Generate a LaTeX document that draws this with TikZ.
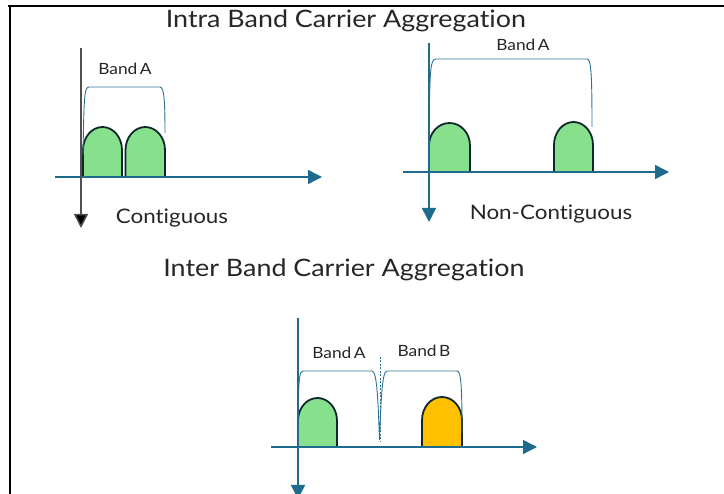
\documentclass[tikz,border=0pt]{standalone}
\usepackage{fontspec}
\setmainfont{Lato}[FakeStretch=1.12, Ligatures=NoCommon]
\usetikzlibrary{arrows.meta}
\definecolor{axisblue}{RGB}{31,107,140}
\definecolor{bandline}{RGB}{45,115,145}
\definecolor{cagreen}{RGB}{134,224,140}
\definecolor{cayellow}{RGB}{255,192,0}
\definecolor{caedge}{RGB}{16,40,45}
\definecolor{framegray}{RGB}{80,80,80}

% one carrier: flat base, straight sides and a rounded top
% #1 style, #2 left x, #3 right x, #4 top y, #5 base y
\newcommand{\carrier}[5]{%
  \pgfmathsetmacro{\cmidx}{(#2+#3)/2}%
  \pgfmathsetmacro{\crx}{(#3-#2)/2}%
  \pgfmathsetmacro{\cry}{0.46*(#5-#4)}%
  \pgfmathsetmacro{\cyo}{#4+\cry}%
  \draw[#1] (#2,#5) -- (#2,\cyo)
    .. controls (#2,\cyo-0.5523*\cry) and (\cmidx-0.5523*\crx,#4) .. (\cmidx,#4)
    .. controls (\cmidx+0.5523*\crx,#4) and (#3,\cyo-0.5523*\cry) .. (#3,\cyo)
    -- (#3,#5) -- cycle;}

\tikzset{
  x=1pt, y=-1pt,
  heading/.style={font=\fontsize{24}{28}\selectfont, text=black!85, inner sep=0pt},
  caption/.style={font=\fontsize{20}{24}\selectfont, text=black!85, inner sep=0pt},
  bandlabel/.style={font=\fontsize{15.5}{18}\selectfont, text=black!85, inner sep=0pt},
  freqaxis/.style={draw=axisblue, line width=1.4pt,
    -{Triangle[length=14pt,width=14pt,fill=axisblue]}},
  bandedge/.style={draw=bandline, line width=0.9pt},
  greencarrier/.style={fill=cagreen, draw=caedge, line width=1.8pt, line join=round},
  yellowcarrier/.style={fill=cayellow, draw=caedge, line width=1.8pt, line join=round},
}

\begin{document}
\begin{tikzpicture}
\useasboundingbox (0,0) rectangle (724,494);

% frame
\draw[line width=2pt] (8,6.3) -- (724,6.3);
\draw[line width=2pt] (10,5.3) -- (10,494);

% ---------- Intra band, contiguous ----------
\node[heading] (intra) at (346,21) {Intra Band Carrier Aggregation};

\carrier{greencarrier}{83}{122}{127}{177}
\carrier{greencarrier}{125.5}{165}{127}{177}
\draw[bandedge] (83,155) .. controls (84,100) and (84,87) .. (89,87)
  -- (160,87) .. controls (164,87) and (165,100) .. (165,133);
\node[bandlabel] (bandA1) at (125,69) {Band\,A};

\coordinate (h1s) at (55,177);   \coordinate (h1e) at (322,177);
\coordinate (v1s) at (81,48);    \coordinate (v1e) at (81,228);
\draw[freqaxis] (h1s) -- (h1e);
\draw[draw=framegray, line width=1.4pt, -{Triangle[length=14pt,width=14pt,fill=black]}] (v1s) -- (v1e);
\node[caption] (contig) at (172,218) {Contiguous};

% ---------- Intra band, non-contiguous ----------
\carrier{greencarrier}{429}{470}{123}{172}
\carrier{greencarrier}{554}{593}{122}{172}
\draw[bandedge] (429,127) .. controls (430,72) and (430,59) .. (436,59)
  -- (587,59) .. controls (591,59) and (592,72) .. (592,127);
\node[bandlabel] (bandA2) at (523,45) {Band\,A};

\coordinate (h2s) at (403,172);  \coordinate (h2e) at (669,172);
\coordinate (v2s) at (429,43);   \coordinate (v2e) at (429,222);
\draw[freqaxis] (h2s) -- (h2e);
\draw[freqaxis] (v2s) -- (v2e);
\node[caption] (noncontig) at (551,214) {Non-Contiguous};

% ---------- Inter band ----------
\node[heading] (inter) at (344,270) {Inter Band Carrier Aggregation};

\carrier{greencarrier}{298}{337}{398}{447}
\carrier{yellowcarrier}{422}{462}{397}{447}
\draw[bandedge] (298,410) .. controls (299,380) and (299,371) .. (303,371)
  -- (372,371) .. controls (377,371) and (378,400) .. (379.5,440)
  .. controls (381,400) and (382,371) .. (387,371)
  -- (457,371) .. controls (461,371) and (462,385) .. (462,433);
\draw[draw=bandline, line width=0.8pt, dash pattern=on 2pt off 1.5pt] (380,357) -- (380,442);
\node[bandlabel] (bandA3) at (339,353) {Band\,A};
\node[bandlabel] (bandB3) at (424,351) {Band\,B};

\coordinate (h3s) at (271,447);  \coordinate (h3e) at (537,447);
\coordinate (v3s) at (298,318);  \coordinate (v3e) at (298,499);
\draw[freqaxis] (h3s) -- (h3e);
\draw[freqaxis] (v3s) -- (v3e);
\end{tikzpicture}
\end{document}
